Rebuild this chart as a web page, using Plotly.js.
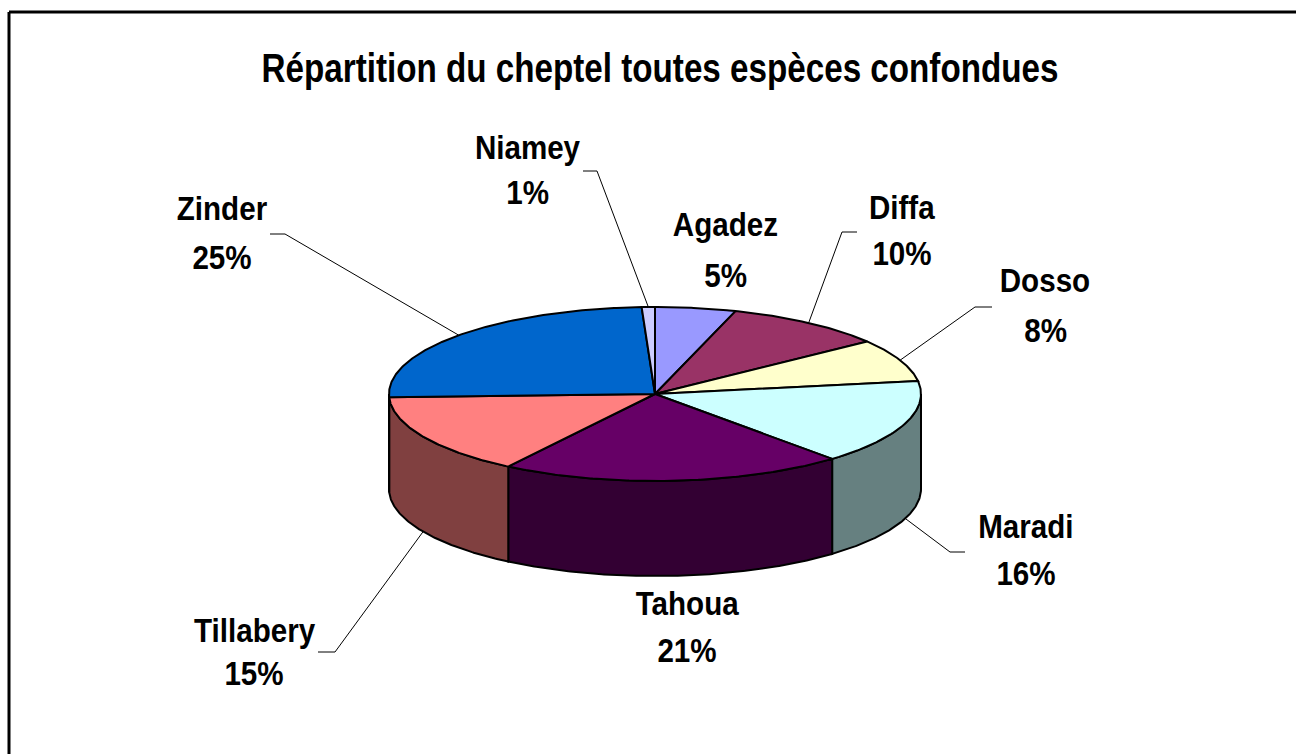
<!DOCTYPE html>
<html><head><meta charset="utf-8">
<script src="https://cdn.plot.ly/plotly-3.0.1.min.js"></script>
<style>html,body{margin:0;padding:0;background:#fff}</style>
</head><body>
<div id="chart" style="width:1296px;height:754px"></div>
<script>
// ---- data ----
const regions = ['Agadez','Diffa','Dosso','Maradi','Tahoua','Tillabery','Zinder','Niamey'];
const shares  = [4.9, 9.8, 7.9, 15.8, 20.9, 15.1, 24.8, 0.8];
const chartTitle = 'Répartition du cheptel toutes espèces confondues';

// ---- style ----
const topColors  = ['#9999FF','#993366','#FFFFCC','#CCFFFF','#660066','#FF8080','#0066CC','#CCCCFF'];
const sideColors = ['#4D4D80','#4D1A33','#808066','#668080','#330033','#804040','#003366','#666680'];
const geo = {cx:655, cy:394, rx:266, ry:87, depth:95};
const FONT = '"Liberation Sans", Arial, sans-serif';
const labelSize = 34;
const labelSqueeze = 0.87, titleSqueeze = 0.83;
// label layout: name centre, percent centre, leader elbow (null = no leader) and tail end x
const labelLayout = [
  {x:725, yName:224, yPct:275, elbow:null},
  {x:902, yName:207, yPct:253, elbow:[842,232], tail:857},
  {x:1045, yName:280, yPct:330, elbow:[975,307], tail:992},
  {x:1026, yName:526, yPct:573, elbow:[950,552], tail:965},
  {x:687, yName:603, yPct:650, elbow:null},
  {x:254, yName:630, yPct:673, elbow:[335,652], tail:318},
  {x:222, yName:208, yPct:257, elbow:[285,234], tail:270},
  {x:527, yName:147, yPct:192, elbow:[597,171], tail:583}
];

function pt(deg, dy){
  const t = deg*Math.PI/180;
  return [geo.cx + geo.rx*Math.sin(t), geo.cy - geo.ry*Math.cos(t) + (dy||0)];
}
function arc(a, b, dy){
  const pts = [];
  const n = Math.max(2, Math.ceil(Math.abs(b-a)/0.5));
  for (let i=0;i<=n;i++){ pts.push(pt(a+(b-a)*i/n, dy)); }
  return pts;
}

const total = shares.reduce((s,v)=>s+v,0);
const starts = [], ends = [];
let cum = 0;
shares.forEach(v=>{ starts.push(cum/total*360); cum += v; ends.push(cum/total*360); });

const sideTraces = [], topTraces = [], leaderTraces = [];
regions.forEach((r,i)=>{
  const a1 = starts[i], a2 = ends[i];
  const lo = Math.max(a1, 90), hi = Math.min(a2, 270);
  if (lo < hi){
    const up = arc(lo, hi, 0), down = arc(hi, lo, geo.depth);
    const P = up.concat(down); P.push(up[0]);
    sideTraces.push({type:'scatter', mode:'lines', x:P.map(p=>p[0]), y:P.map(p=>p[1]),
      fill:'toself', fillcolor:sideColors[i], line:{color:'#000', width:2}, hoverinfo:'skip'});
  }
  const A = arc(a1, a2, 0);
  const xs = [geo.cx].concat(A.map(p=>p[0]), [geo.cx]);
  const ys = [geo.cy].concat(A.map(p=>p[1]), [geo.cy]);
  topTraces.push({type:'scatter', mode:'lines', x:xs, y:ys, fill:'toself',
    fillcolor:topColors[i], line:{color:'#000', width:2}, name:r,
    text:r+' '+Math.round(shares[i]/total*100)+'%', hoverinfo:'text'});
  const L = labelLayout[i];
  if (L.elbow){
    const mid = (a1+a2)/2;
    const c = Math.cos(mid*Math.PI/180);
    const anchor = pt(mid, c < 0 ? geo.depth : 0);
    leaderTraces.push({type:'scatter', mode:'lines',
      x:[anchor[0], L.elbow[0], L.tail], y:[anchor[1], L.elbow[1], L.elbow[1]],
      line:{color:'#000', width:1}, hoverinfo:'skip'});
  }
});

const annotations = [];
regions.forEach((r,i)=>{
  const L = labelLayout[i];
  const pct = Math.round(shares[i]/total*100) + '%';
  annotations.push({x:L.x, y:L.yName, xref:'x', yref:'y', text:'<b>'+r+'</b>', showarrow:false,
    xanchor:'center', yanchor:'middle', font:{family:FONT, size:labelSize, color:'#000'}});
  annotations.push({x:L.x, y:L.yPct, xref:'x', yref:'y', text:'<b>'+pct+'</b>', showarrow:false,
    xanchor:'center', yanchor:'middle', font:{family:FONT, size:labelSize, color:'#000'}});
});

const layout = {
  width:1296, height:754,
  margin:{l:0, r:0, t:0, b:0, pad:0},
  paper_bgcolor:'#fff', plot_bgcolor:'#fff',
  showlegend:false,
  title:{text:'<b>'+chartTitle+'</b>', x:660/1296, xanchor:'center', xref:'paper',
    y:1-68/754, yanchor:'middle', yref:'container',
    font:{family:FONT, size:40, color:'#000'}},
  xaxis:{range:[0,1296], visible:false, fixedrange:true},
  yaxis:{range:[754,0], visible:false, fixedrange:true},
  shapes:[
    {type:'line', xref:'x', yref:'y', x0:9, y0:12, x1:1296, y1:12, line:{color:'#000', width:3}},
    {type:'line', xref:'x', yref:'y', x0:9, y0:12, x1:9, y1:754, line:{color:'#000', width:3}}
  ],
  annotations: annotations
};

function squeeze(sel, f){
  document.querySelectorAll(sel).forEach(t=>{
    try{
      const w = t.getComputedTextLength();
      if (w > 0){
        t.setAttribute('textLength', (w*f).toFixed(1));
        t.setAttribute('lengthAdjust', 'spacingAndGlyphs');
      }
    }catch(e){}
  });
}

Plotly.newPlot('chart', sideTraces.concat(topTraces, leaderTraces), layout,
  {displayModeBar:false, staticPlot:true}).then(()=>{
  squeeze('#chart .annotation-text', labelSqueeze);
  squeeze('#chart .gtitle', titleSqueeze);
});
</script>
</body></html>
